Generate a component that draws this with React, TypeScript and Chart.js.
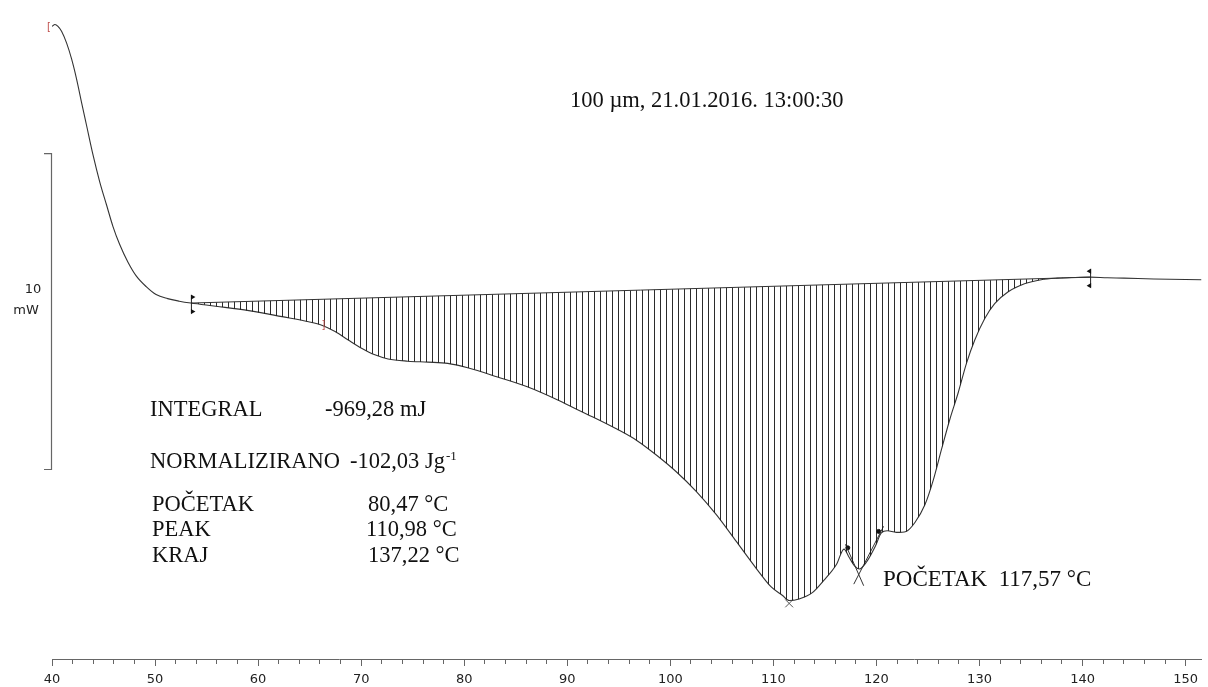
import React, { useEffect, useRef } from "react";
import { Chart, registerables } from "chart.js";

Chart.register(...registerables);

// ---- data (temperature in °C, heat flow in mW, arbitrary offset) ----
const temperature = [
  40.0, 40.29, 40.58, 40.94, 41.42, 41.9, 42.38, 42.87, 43.35, 43.98, 44.63, 45.28, 45.91, 46.56, 47.36,
  48.17, 49.14, 50.1, 51.22, 52.35, 53.48, 55.89, 59.1, 62.32, 64.89, 66.18, 67.47, 68.75, 70.04, 71.33,
  72.61, 74.54, 76.47, 78.4, 80.33, 83.23, 86.12, 89.02, 90.95, 92.88, 94.81, 96.74, 98.67, 100.6, 102.53,
  104.46, 106.38, 108.31, 109.76, 110.89, 111.53, 112.49, 113.78, 114.87, 116.13, 116.85, 117.33, 117.87,
  118.35, 119.09, 119.89, 120.47, 121.05, 121.92, 122.88, 123.75, 124.71, 125.49, 126.33, 127.13, 127.93,
  128.74, 129.54, 130.51, 131.47, 132.75, 134.36, 135.98, 137.58, 139.19, 140.73, 142.4, 144.01, 146.91,
  151.54,
];
const heatFlow = [
  20.03, 20.09, 20.03, 19.87, 19.5, 19.0, 18.37, 17.62, 16.9, 15.96, 15.11, 14.39, 13.7, 13.13, 12.57,
  12.13, 11.79, 11.54, 11.41, 11.33, 11.27, 11.17, 11.03, 10.84, 10.68, 10.57, 10.37, 10.1, 9.84, 9.63,
  9.5, 9.43, 9.4, 9.36, 9.22, 8.93, 8.62, 8.21, 7.9, 7.6, 7.28, 6.92, 6.45, 5.92, 5.3,
  4.57, 3.73, 2.88, 2.29, 2.01, 1.85, 1.9, 2.1, 2.48, 3.0, 3.48, 3.23, 2.95,
  2.85, 3.1, 3.57, 3.99, 4.06, 4.01, 4.04, 4.33, 4.89, 5.64, 6.66, 7.6, 8.43,
  9.37, 10.1, 10.78, 11.25, 11.62, 11.88, 12.01, 12.06, 12.08, 12.09, 12.07, 12.06, 12.03,
  12.01,
];
const baselineT = [53.48, 140.73];
const baselineHF = [11.27, 12.09];
const tangentAT = [116.99, 118.76];
const tangentAHF = [3.63, 2.32];
const tangentBT = [120.69, 117.8];
const tangentBHF = [4.2, 2.37];
const onsetDotT = [117.22, 120.21];
const onsetDotHF = [3.52, 4.04];
const peakT = [111.53];
const peakHF = [1.76];
const rangeMarkT = [39.71, 66.33];
const rangeMarkHF = [20.0, 10.56];
const rangeMarkText = ["[", "]"];
const scaleBarMW = [6, 16];
const scaleBarLabel = ["10", "mW"];
const xMin = 40;
const xMax = 151.54;
const xStep = 2;
const xLabelEvery = 10;

const titleText = "100 µm, 21.01.2016. 13:00:30";
const resultLabels = ["INTEGRAL", "NORMALIZIRANO", "POČETAK", "PEAK", "KRAJ"];
const resultValues = ["-969,28 mJ", "-102,03 Jg", "80,47 °C", "110,98 °C", "137,22 °C"];
const resultSuperscripts = ["", "-1", "", "", ""];
const onsetText = "POČETAK  117,57 °C";

const SERIF = '"Liberation Serif", "Times New Roman", serif';
const SANS = '"DejaVu Sans", Verdana, sans-serif';

const annotationPlugin = {
  id: "dscAnnotations",
  afterDraw(chart: any) {
    const ctx: CanvasRenderingContext2D = chart.ctx;
    const xs = chart.scales.x;
    const ys = chart.scales.y;
    ctx.save();

    // scale bar (10 mW)
    const xb = 51.5;
    const yTop = ys.getPixelForValue(scaleBarMW[1]);
    const yBot = ys.getPixelForValue(scaleBarMW[0]);
    ctx.strokeStyle = "#666";
    ctx.lineWidth = 1.2;
    ctx.beginPath();
    ctx.moveTo(44, yTop);
    ctx.lineTo(xb, yTop);
    ctx.lineTo(xb, yBot);
    ctx.lineTo(44, yBot);
    ctx.stroke();
    ctx.fillStyle = "#222";
    ctx.font = `13px ${SANS}`;
    ctx.textAlign = "center";
    ctx.textBaseline = "middle";
    ctx.fillText(scaleBarLabel[0], 33, 290);
    ctx.fillText(scaleBarLabel[1], 26, 311);

    // integration limit markers
    const limit = (t: number, v: number, dir: number) => {
      const px = xs.getPixelForValue(t);
      const py = ys.getPixelForValue(v);
      ctx.strokeStyle = "#222";
      ctx.lineWidth = 1;
      ctx.beginPath();
      ctx.moveTo(px + 0.5, py - 8);
      ctx.lineTo(px + 0.5, py + 10);
      ctx.stroke();
      ctx.fillStyle = "#111";
      for (const cy of [py - 6, py + 8.5]) {
        ctx.beginPath();
        if (dir > 0) {
          ctx.moveTo(px, cy - 2.6);
          ctx.lineTo(px + 4.5, cy);
          ctx.lineTo(px, cy + 2.6);
        } else {
          ctx.moveTo(px + 1, cy - 2.6);
          ctx.lineTo(px - 3.5, cy);
          ctx.lineTo(px + 1, cy + 2.6);
        }
        ctx.closePath();
        ctx.fill();
      }
    };
    limit(baselineT[0], baselineHF[0], 1);
    limit(baselineT[1], baselineHF[1], -1);

    // red range marks
    ctx.fillStyle = "#c0504d";
    ctx.font = `10px ${SANS}`;
    ctx.textAlign = "center";
    ctx.textBaseline = "middle";
    rangeMarkT.forEach((t, i) => {
      ctx.fillText(rangeMarkText[i], xs.getPixelForValue(t), ys.getPixelForValue(rangeMarkHF[i]));
    });

    // texts
    ctx.fillStyle = "#111";
    ctx.textAlign = "left";
    ctx.textBaseline = "alphabetic";
    ctx.font = `22.5px ${SERIF}`;
    ctx.fillText(titleText, 570, 107);

    const rows = [415.5, 467.5, 510.5, 535.5, 562];
    const labelX = [150, 150, 152, 152, 152];
    const valueX = [325, 350, 368, 366, 368];
    resultLabels.forEach((lab, i) => {
      ctx.font = `22.5px ${SERIF}`;
      ctx.fillText(lab, labelX[i], rows[i]);
      ctx.fillText(resultValues[i], valueX[i], rows[i]);
      if (resultSuperscripts[i]) {
        const w = ctx.measureText(resultValues[i]).width;
        ctx.font = `13px ${SERIF}`;
        ctx.fillText(resultSuperscripts[i], valueX[i] + w + 1, rows[i] - 8);
      }
    });
    ctx.font = `23px ${SERIF}`;
    ctx.fillText(onsetText, 883, 585.5);

    ctx.restore();
  },
};

export default function App() {
  const ref = useRef<HTMLCanvasElement>(null);
  useEffect(() => {
    const canvas = ref.current!;
    const pc = document.createElement("canvas");
    pc.width = 6;
    pc.height = 8;
    const pctx = pc.getContext("2d")!;
    pctx.fillStyle = "rgba(20,20,20,0.9)";
    pctx.fillRect(0, 0, 1, 8);
    const pattern = canvas.getContext("2d")!.createPattern(pc, "repeat");

    const curve = temperature.map((t, i) => ({ x: t, y: heatFlow[i] }));
    const hatch = curve.filter((p) => p.x >= baselineT[0] && p.x <= baselineT[1]);
    const pts = (xsArr: number[], ysArr: number[]) => xsArr.map((x, i) => ({ x, y: ysArr[i] }));

    const chart = new Chart(canvas, {
      type: "line",
      data: {
        datasets: [
          {
            data: pts(baselineT, baselineHF),
            borderColor: "#333",
            borderWidth: 1,
            pointRadius: 0,
            fill: false,
          },
          {
            data: hatch,
            borderWidth: 0,
            borderColor: "rgba(0,0,0,0)",
            backgroundColor: pattern as any,
            pointRadius: 0,
            tension: 0.4,
            cubicInterpolationMode: "monotone",
            fill: "-1",
          },
          {
            data: curve,
            borderColor: "#333",
            borderWidth: 1.1,
            pointRadius: 0,
            tension: 0.4,
            cubicInterpolationMode: "monotone",
            fill: false,
          },
          {
            data: pts(tangentAT, tangentAHF),
            borderColor: "#333",
            borderWidth: 1,
            pointRadius: 0,
            fill: false,
          },
          {
            data: pts(tangentBT, tangentBHF),
            borderColor: "#333",
            borderWidth: 1,
            pointRadius: 0,
            fill: false,
          },
          {
            data: pts(onsetDotT, onsetDotHF),
            showLine: false,
            pointRadius: 2,
            pointBackgroundColor: "#111",
            pointBorderColor: "#111",
            fill: false,
          },
          {
            data: pts(peakT, peakHF),
            showLine: false,
            pointStyle: "crossRot",
            pointRadius: 5.5,
            pointBorderColor: "#555",
            pointBorderWidth: 1,
            fill: false,
          },
        ],
      },
      options: {
        animation: false,
        responsive: false,
        devicePixelRatio: 1,
        events: [],
        layout: { padding: { left: 52, right: 0, top: 0, bottom: 0 } },
        plugins: { legend: { display: false }, tooltip: { enabled: false } },
        scales: {
          x: {
            type: "linear",
            min: xMin,
            max: xMax,
            ticks: {
              stepSize: xStep,
              autoSkip: false,
              maxRotation: 0,
              includeBounds: false,
              padding: 7,
              color: "#222",
              font: { family: "DejaVu Sans", size: 13, lineHeight: 14 / 13 },
              callback: (v: any) => (Math.round(v) % xLabelEvery === 0 ? String(v) : ""),
            },
            grid: {
              drawOnChartArea: false,
              drawTicks: true,
              tickLength: 7,
              tickColor: "#666",
              tickWidth: 1,
              tickBorderDash: (c: any) =>
                c.tick && Math.round(c.tick.value) % xLabelEvery === 0 ? [] : [4, 20],
            } as any,
            border: { display: true, color: "#666", width: 1 },
          },
          y: {
            type: "linear",
            display: false,
            min: 0,
            max: 20.66,
          },
        },
      },
      plugins: [annotationPlugin],
    });
    return () => chart.destroy();
  }, []);
  return (
    <div
      style={{
        position: "fixed",
        left: 0,
        top: 0,
        width: 1208,
        height: 687,
        overflow: "hidden",
        background: "#fff",
      }}
    >
      <canvas ref={ref} width={1208} height={694} style={{ display: "block" }} />
    </div>
  );
}
